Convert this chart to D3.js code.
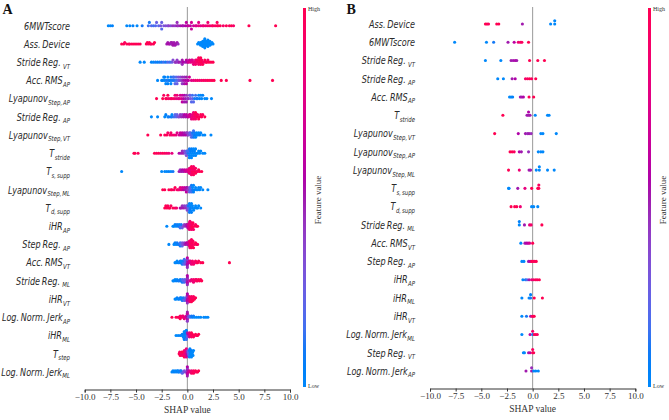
<!DOCTYPE html>
<html><head><meta charset="utf-8">
<script src="https://cdn.jsdelivr.net/npm/d3@7"></script>
<style>body{margin:0;background:#fff}</style>
</head><body><svg id="c" width="669" height="420"></svg>
<script>
// ---------- Feature labels [main, subscript, spaceBeforeSub] ----------
const featuresA = [["6MWTscore",""],["Ass. Device",""],["Stride Reg.","VT",1],["Acc. RMS","AP"],["Lyapunov","Step, AP"],["Stride Reg.","AP",1],["Lyapunov","Step, VT"],["T","stride"],["T","s, supp"],["Lyapunov","Step, ML"],["T","d, supp"],["iHR","AP"],["Step Reg.","AP",1],["Acc. RMS","VT"],["Stride Reg.","ML",1],["iHR","VT"],["Log. Norm. Jerk","AP"],["iHR","ML"],["T","step"],["Log. Norm. Jerk","ML"]];
const featuresB = [["Ass. Device",""],["6MWTscore",""],["Stride Reg.","VT",1],["Stride Reg.","AP",1],["Acc. RMS","AP"],["T","stride"],["Lyapunov","Step, VT"],["Lyapunov","Step, AP"],["Lyapunov","Step, ML"],["T","s, supp"],["T","d, supp"],["Stride Reg.","ML",1],["Acc. RMS","VT"],["Step Reg.","AP",1],["iHR","AP"],["iHR","ML"],["iHR","VT"],["Log. Norm. Jerk","ML"],["Step Reg.","VT",1],["Log. Norm. Jerk","AP"]];
const tickValues = [-10,-7.5,-5,-2.5,0,2.5,5,7.5,10];

// ---------- Panel A: [SHAP value, normalised feature value] ----------
const A_6MWT = [[-7.7,0],[-7.5,0],[-7.3,.05],[-5.9,0],[-5.6,0],[-5.3,.05],[-4.9,0],[-4.4,.1],[-3.8,.15],[-3.7,.1],[-3.5,.2],[-3.3,.15],[-3.1,.2],[-3.0,.25],[-2.8,.2],[-2.6,.3],[-2.5,.25],[-2.5,.2],[-2.3,.3],[-2.1,.35],[-1.9,.3],[-1.8,.4],[-1.6,.35],[-1.4,.45],[-1.2,.4],[-1.0,.5],[-1.0,.45],[-0.9,.45],[-0.7,.5],[-0.5,.55],[-0.4,.5],[-0.2,.55],[-0.1,.6],[0,.55],[0.1,.65],[0.3,.6],[0.4,.7],[0.4,.65],[0.6,.65],[0.8,.75],[0.9,.7],[1.1,.8],[1.1,.75],[1.3,.75],[1.5,.8],[1.6,.85],[1.8,.8],[2.0,.9],[2.0,.85],[2.2,.85],[2.4,.9],[2.5,.95],[2.7,.9],[2.9,1],[2.9,.95],[3.0,.95],[3.2,1],[3.5,.9],[3.8,1],[4.1,.95],[4.3,1],[4.5,.9],[6.0,1],[8.6,1]];
const A_AssDevice = [[-6.4,1],[-6.2,1],[-6.1,.95],[-5.9,1],[-5.7,1],[-5.6,.95],[-5.4,1],[-5.2,1],[-5.0,1],[-4.8,.95],[-4.6,1],[-4.0,1],[-3.9,1],[-3.8,.95],[-3.7,1],[-3.6,1],[-3.5,.95],[-3.3,1],[-3.2,1],[-2.0,.5],[-1.9,.5],[-1.8,.55],[-1.7,.5],[-1.6,.5],[-1.5,.45],[-1.5,.5],[-1.4,.5],[-1.3,.55],[-1.3,.5],[-1.2,.5],[-1.1,.5],[-1.0,.5],[-0.9,.45],[1.0,0],[1.1,0],[1.2,0],[1.3,0],[1.3,0],[1.4,0],[1.4,0],[1.5,0],[1.5,0],[1.5,0],[1.6,0],[1.6,0],[1.6,0],[1.6,0],[1.7,0],[1.7,0],[1.7,0],[1.7,0],[1.8,0],[1.8,0],[1.8,0],[1.8,0],[1.9,0],[1.9,0],[1.9,0],[2.0,0],[2.0,0],[2.0,0],[2.1,0],[2.1,0],[2.2,0],[2.2,0],[2.3,0],[2.4,0],[2.5,0]];
const A_StrideVT = [[-4.6,0],[-4.2,0],[-3.5,.05],[-3.3,0],[-3.1,.1],[-2.9,.05],[-2.7,.1],[-2.5,.1],[-2.3,.15],[-2.1,.1],[-1.9,.2],[-1.7,.15],[-1.5,.25],[-1.4,.35],[-1.2,.4],[-1.1,.45],[-1.0,.4],[-0.9,.4],[-0.8,.5],[-0.6,.45],[-0.5,.5],[-0.5,.45],[-0.4,.55],[-0.2,.5],[-0.1,.6],[0,.55],[0.1,.7],[0.2,.65],[0.3,.75],[0.4,.7],[0.5,.8],[0.5,.75],[0.6,.8],[0.7,.85],[0.8,.8],[0.8,.9],[0.9,.85],[0.9,.9],[1.0,.9],[1.0,.95],[1.1,.9],[1.1,.95],[1.2,.95],[1.2,1],[1.3,.9],[1.3,1],[1.4,1],[1.4,.95],[1.5,1],[1.6,.9],[1.7,1],[1.8,.95],[1.9,1],[2.0,.9],[2.1,1],[2.3,1],[2.5,1]];
const A_AccRMSAP = [[-2.9,0],[-2.5,0],[-2.4,.05],[-2.3,0],[-2.2,0],[-2.2,.05],[-2.1,0],[-2.0,.1],[-1.9,0],[-1.9,.05],[-1.8,.1],[-1.7,.05],[-1.6,.1],[-1.6,0],[-1.5,.1],[-1.4,.15],[-1.3,.1],[-1.3,.15],[-1.2,.2],[-1.1,.15],[-1.1,.2],[-1.0,.25],[-0.9,.2],[-0.9,.3],[-0.8,.3],[-0.7,.35],[-0.6,.4],[-0.5,.45],[-0.5,.4],[-0.4,.5],[-0.3,.45],[-0.3,.5],[-0.2,.55],[-0.1,.5],[-0.1,.6],[0,.55],[0.1,.6],[0.2,.65],[0.4,.75],[0.6,.8],[0.8,.85],[1.0,.9],[1.2,.85],[1.4,.9],[1.6,.95],[1.8,.9],[2.0,1],[2.2,.95],[2.4,1],[2.6,1],[3.3,1],[3.8,1],[6.1,1],[8.3,1]];
const A_LyapAP = [[-3.0,1],[-2.4,1],[-2.3,.95],[-2.1,1],[-2.0,.95],[-1.9,1],[-1.8,.9],[-1.6,1],[-1.5,.9],[-1.3,.95],[-1.2,.85],[-1.1,.8],[-1.0,.85],[-0.9,.75],[-0.8,.8],[-0.7,.7],[-0.6,.75],[-0.5,.65],[-0.5,.6],[-0.4,.6],[-0.3,.55],[-0.3,.5],[-0.2,.5],[-0.1,.45],[-0.1,.5],[0,.4],[0.1,.45],[0.2,.35],[0.3,.3],[0.3,.25],[0.4,.2],[0.5,.25],[0.5,.15],[0.6,.2],[0.7,.1],[0.8,.15],[0.9,.05],[1.0,.1],[1.1,0],[1.2,.05],[1.3,0],[1.4,0],[1.5,.05],[1.7,0],[1.9,0],[2.35,0]];
const A_StrideAP = [[-3.5,0],[-2.9,0],[-2.2,0],[-2.1,.05],[-1.9,0],[-1.8,.1],[-1.6,.05],[-1.5,.1],[-1.5,0],[-1.3,.15],[-1.2,.2],[-1.1,.2],[-1.0,.25],[-0.9,.3],[-0.8,.35],[-0.7,.4],[-0.6,.45],[-0.5,.4],[-0.4,.5],[-0.3,.55],[-0.2,.5],[-0.1,.6],[0,.55],[0.1,.65],[0.2,.7],[0.3,.75],[0.3,.7],[0.4,.8],[0.5,.85],[0.5,.8],[0.6,.9],[0.6,.85],[0.7,.85],[0.7,.95],[0.8,.9],[0.8,1],[0.9,.95],[0.9,1],[1.0,1],[1.0,.9],[1.1,1],[1.2,.95],[1.3,1],[1.4,1],[1.5,.95],[1.7,1]];
const A_LyapVT = [[-3.85,1],[-2.6,1],[-2.2,.95],[-2.0,1],[-1.9,.9],[-1.7,.95],[-1.6,.9],[-1.5,.85],[-1.3,.9],[-1.1,.8],[-1.0,.75],[-0.8,.7],[-0.7,.65],[-0.6,.6],[-0.5,.6],[-0.4,.55],[-0.3,.5],[-0.2,.55],[-0.1,.45],[0,.5],[0,.4],[0.1,.35],[0.2,.3],[0.3,.25],[0.3,.2],[0.4,.2],[0.5,.15],[0.5,.1],[0.6,.1],[0.6,.15],[0.7,.05],[0.7,.1],[0.8,0],[0.9,.05],[0.9,0],[1.0,0],[1.1,0],[1.2,.05],[1.3,0],[1.5,0],[1.7,0],[2.3,0]];
const A_Tstride = [[-5.2,1],[-5.1,1],[-4.8,.95],[-3.2,1],[-3.0,.95],[-2.8,1],[-2.6,.9],[-2.4,1],[-2.2,.95],[-2.0,.9],[-1.8,.85],[-1.5,.8],[-0.8,.55],[-0.6,.5],[-0.5,.45],[-0.4,.5],[-0.3,.35],[-0.2,.3],[-0.1,.25],[-0.1,.3],[0,.2],[0,.15],[0.1,.1],[0.1,.15],[0.2,.05],[0.2,.1],[0.2,0],[0.3,0],[0.3,.05],[0.4,0],[0.4,.05],[0.4,0],[0.5,0],[0.5,.05],[0.6,0],[0.6,0],[0.7,0],[0.7,.05],[0.8,0],[0.8,0],[0.9,0],[1.0,0],[1.1,0],[1.2,0],[1.3,0],[1.5,0],[1.7,0]];
const A_Tssupp = [[-6.4,0],[-2.5,0],[-2.2,0],[-2.0,0],[-1.8,.05],[-1.6,0],[-1.4,.1],[-0.8,.5],[-0.7,.45],[-0.6,.5],[-0.5,.55],[-0.4,.5],[-0.3,.6],[-0.2,.65],[-0.1,.7],[0,.65],[0.1,.75],[0.1,.8],[0.2,.85],[0.2,.8],[0.3,.9],[0.3,.85],[0.3,.8],[0.4,.95],[0.4,.9],[0.4,1],[0.5,1],[0.5,.9],[0.5,.95],[0.6,1],[0.6,.95],[0.6,.9],[0.7,1],[0.7,.9],[0.8,1],[0.8,.95],[0.9,1],[1.0,.9],[1.1,1],[1.2,1],[1.4,1]];
const A_LyapML = [[-2.4,1],[-2.2,1],[-1.8,1],[-1.6,.95],[-1.5,1],[-1.3,.9],[-1.2,1],[-1.0,.95],[-0.9,.9],[-0.8,.85],[-0.7,.8],[-0.6,.75],[-0.5,.7],[-0.4,.6],[-0.3,.65],[-0.2,.5],[-0.1,.55],[-0.1,.6],[0,.45],[0,.5],[0.1,.4],[0.2,.3],[0.2,.25],[0.3,.2],[0.3,.2],[0.4,.15],[0.4,.1],[0.5,.1],[0.5,0],[0.6,.05],[0.6,0],[0.7,.05],[0.8,0],[0.9,0],[1.0,0],[1.1,0],[1.2,0],[1.3,0],[1.5,0],[2.0,0]];
const A_Tdsupp = [[-2.2,1],[-2.1,1],[-2.0,1],[-1.9,.95],[-1.8,1],[-1.7,1],[-1.6,.95],[-1.4,1],[-1.2,.9],[-1.05,.9],[-0.7,.55],[-0.6,.5],[-0.5,.45],[-0.4,.5],[-0.3,.4],[-0.2,.45],[-0.1,.35],[0,.4],[0,.3],[0,.35],[0.1,.2],[0.1,.1],[0.2,.15],[0.2,.05],[0.2,.1],[0.3,.1],[0.3,0],[0.3,.05],[0.4,0],[0.4,.05],[0.5,0],[0.5,0],[0.6,0],[0.7,0],[0.8,0],[0.9,0],[1.0,0],[1.1,0],[1.3,0]];
const A_iHRAP = [[-2.0,0],[-1.4,0],[-1.3,0],[-1.2,.05],[-1.1,0],[-1.0,.1],[-0.9,.05],[-0.8,.1],[-0.8,0],[-0.7,.15],[-0.6,.2],[-0.6,.1],[-0.5,.25],[-0.4,.35],[-0.3,.4],[-0.2,.45],[-0.1,.5],[0,.55],[0,.5],[0.05,.6],[0.1,.7],[0.1,.75],[0.15,.75],[0.2,.8],[0.2,.85],[0.25,.85],[0.3,.9],[0.3,.85],[0.35,.9],[0.4,.95],[0.4,.9],[0.45,1],[0.5,.95],[0.5,1],[0.55,1],[0.6,.9],[0.7,1],[0.8,.95],[0.9,1],[1.0,1]];
const A_StepAP = [[-1.8,0],[-1.3,0],[-1.2,.05],[-1.1,0],[-1.0,.1],[-0.9,.05],[-0.8,.1],[-0.7,.15],[-0.7,.1],[-0.6,.2],[-0.5,.3],[-0.5,.2],[-0.4,.35],[-0.3,.4],[-0.2,.5],[-0.1,.55],[0,.5],[0,.6],[0.1,.65],[0.15,.7],[0.2,.8],[0.2,.85],[0.25,.85],[0.3,.9],[0.3,.95],[0.3,1],[0.35,.9],[0.4,1],[0.4,.95],[0.45,.9],[0.5,1],[0.5,.95],[0.55,.95],[0.6,1],[0.7,.95],[0.8,1],[0.9,1],[1.0,.95]];
const A_AccRMSVT = [[-1.2,0],[-1.1,0],[-1.0,0],[-0.9,.05],[-0.8,0],[-0.7,.1],[-0.6,.05],[-0.6,0],[-0.5,.1],[-0.4,.15],[-0.4,.1],[-0.3,.2],[-0.3,.15],[-0.2,.25],[-0.2,.2],[-0.1,.3],[0,.45],[0,.5],[0,.55],[0,.4],[0,.5],[0,.6],[0,.45],[0.1,.6],[0.2,.7],[0.3,.75],[0.3,.8],[0.4,.8],[0.5,.85],[0.5,.9],[0.6,.9],[0.7,.85],[0.8,.95],[0.9,.9],[1.0,1],[1.1,.95],[1.3,1],[1.5,1],[4.1,1]];
const A_StrideML = [[-1.4,0],[-1.3,0],[-1.2,0],[-1.1,.05],[-1.0,0],[-0.9,.05],[-0.8,.1],[-0.7,.05],[-0.6,.1],[-0.5,.15],[-0.5,.1],[-0.4,.2],[-0.3,.2],[-0.3,.15],[-0.2,.25],[-0.1,.3],[0,.45],[0,.5],[0,.55],[0,.4],[0,.6],[0,.5],[0,.45],[0,.55],[0.25,.7],[0.3,.75],[0.4,.8],[0.5,.85],[0.6,.9],[0.6,.85],[0.7,.85],[0.8,.95],[0.9,1],[0.9,.9],[1.0,.95],[1.1,1],[1.2,1],[1.3,.95],[1.4,1]];
const A_iHRVT = [[-1.2,0],[-1.1,0],[-1.0,.05],[-0.9,0],[-0.8,.05],[-0.7,.1],[-0.6,.05],[-0.6,0],[-0.5,.1],[-0.4,.15],[-0.4,.1],[-0.3,.2],[-0.2,.25],[-0.2,.2],[-0.1,.3],[0,.45],[0,.5],[0,.55],[0,.4],[0,.6],[0,.5],[0,.45],[0,.55],[0.1,.65],[0.15,.7],[0.2,.75],[0.2,.8],[0.25,.8],[0.3,.85],[0.3,.9],[0.35,.9],[0.4,.95],[0.4,1],[0.45,1],[0.5,.9],[0.55,1],[0.6,.95],[0.7,1],[0.8,1]];
const A_JerkAP = [[-1.5,1],[-1.1,1],[-0.9,.95],[-0.8,1],[-0.7,.9],[-0.7,1],[-0.6,.95],[-0.5,.85],[-0.4,.9],[-0.4,.85],[-0.3,.8],[-0.2,.75],[-0.1,.7],[0,.5],[0,.55],[0,.6],[0,.45],[0,.5],[0,.65],[0,.4],[0,.5],[0.1,.35],[0.2,.25],[0.3,.15],[0.4,.1],[0.5,.05],[0.6,.1],[0.7,0],[0.9,0],[1.1,0],[1.3,0],[1.6,0],[1.8,0],[2.0,0]];
const A_iHRML = [[-1.1,0],[-0.9,0],[-0.7,.05],[-0.5,0],[-0.5,.05],[-0.4,0],[-0.4,.05],[-0.4,0],[-0.3,0],[-0.3,.1],[-0.3,0],[-0.3,.05],[-0.2,0],[-0.2,.1],[-0.2,0],[-0.2,.05],[-0.1,.1],[-0.1,0],[-0.1,.15],[-0.1,.05],[0,.2],[0,.1],[0,.3],[0,.5],[0.1,.4],[0.1,.6],[0.2,.7],[0.2,.8],[0.3,.85],[0.3,.9],[0.4,.95],[0.4,1],[0.5,.9],[0.5,1],[0.6,.95],[0.7,1],[0.8,1],[0.9,.95],[1.0,1],[1.1,1]];
const A_Tstep = [[-0.8,1],[-0.75,.95],[-0.7,1],[-0.6,.9],[-0.55,1],[-0.5,.95],[-0.45,.9],[-0.4,1],[-0.35,.85],[-0.3,.9],[-0.3,1],[-0.25,.8],[-0.2,.85],[-0.2,.9],[-0.15,.75],[-0.1,.7],[-0.1,.8],[-0.05,.6],[0,.5],[0,.55],[0.05,.35],[0.1,.3],[0.1,.2],[0.15,.15],[0.2,.1],[0.2,0],[0.25,.05],[0.3,0],[0.3,0],[0.35,0],[0.4,.05],[0.4,0],[0.45,0],[0.5,0],[0.55,0],[0.6,0]];
const A_JerkML = [[-1.5,0],[-1.4,0],[-1.3,.05],[-1.2,0],[-1.1,0],[-1.0,.05],[-0.9,.1],[-0.9,0],[-0.8,0],[-0.7,.1],[-0.6,.15],[-0.6,.1],[-0.5,.2],[-0.4,.25],[-0.3,.3],[-0.2,.35],[0,.5],[0,.45],[0,.55],[0,.5],[0,.6],[0,.4],[0,.5],[0,.55],[0.1,.65],[0.2,.7],[0.3,.8],[0.4,.85],[0.4,.9],[0.5,.9],[0.6,.95],[0.6,1],[0.7,.9],[0.8,1],[0.9,.95],[1.0,1],[1.1,1]];

// ---------- Panel B ----------
const B_AssDevice = [[-4.6,1],[-4.45,1],[-4.3,.95],[-3.5,1],[-3.3,1],[-1.0,.5],[1.75,0],[2.15,0],[2.15,0]];
const B_6MWT = [[-7.6,0],[-4.5,0],[-3.8,.1],[-2.4,.5],[-1.8,.6],[-1.4,.85],[-1.2,.9],[-1.05,.95],[-0.4,1]];
const B_StrideVT = [[-4.6,0],[-3.1,0],[-2.1,.5],[-1.9,.5],[-1.7,.55],[-1.55,.5],[-0.3,1],[0.5,1],[1.15,1]];
const B_StrideAP = [[-3.4,0],[-2.85,0],[-2.0,.5],[-1.7,.55],[-0.7,.9],[-0.5,.95],[-0.3,1],[-0.1,.95],[0.3,1]];
const B_AccRMSAP = [[-2.25,0],[-2.1,0],[-1.95,.05],[-1.2,.5],[-1.05,.5],[-0.9,.55],[-0.35,1],[0.1,1]];
const B_Tstride = [[-2.9,1],[-0.55,.5],[-0.4,.5],[-0.4,.55],[-0.25,.5],[0.25,0],[1.45,0],[1.6,0]];
const B_LyapVT = [[-3.7,1],[-1.4,.55],[-0.7,.5],[-0.5,.45],[-0.35,.5],[-0.15,.45],[0.8,0],[1.0,0],[2.3,0]];
const B_LyapAP = [[-2.2,1],[-2.0,1],[-1.8,.95],[-1.3,.55],[-1.1,.5],[-0.4,.45],[0.55,0],[0.8,0],[1.0,0]];
const B_LyapML = [[-2.35,1],[-1.3,.85],[-0.35,.5],[-0.2,.5],[0.35,0],[0.65,0],[0.65,0],[1.45,0],[2.1,0]];
const B_Tssupp = [[-2.35,0],[-2.3,0],[-1.45,.5],[-0.75,.8],[-0.1,1],[0.5,1],[0.6,1],[0.6,.95]];
const B_Tdsupp = [[-2.1,1],[-1.75,1],[-1.55,1],[-1.2,.85],[-0.1,0],[0.1,0],[0.5,0]];
const B_StrideML = [[-1.3,0],[-1.3,.05],[-0.8,.5],[-0.3,.8],[-0.15,.9],[0.9,1]];
const B_AccRMSVT = [[-1.15,0],[-0.75,.5],[-0.6,.55],[-0.45,.6],[-0.3,.7],[0,1]];
const B_StepAP = [[-1.05,0],[-0.85,0],[-0.4,.5],[-0.25,.6],[-0.1,1],[0.05,1],[0.2,.95],[0.35,1]];
const B_iHRAP = [[-0.95,0],[-0.7,.1],[-0.55,.2],[-0.35,.5],[-0.1,.8],[0.1,.9],[0.3,1],[0.45,.95],[0.65,1]];
const B_iHRML = [[-1.05,0],[-0.35,0],[-0.2,.1],[-0.2,.05],[0.15,1],[0.95,1]];
const B_iHRVT = [[-1.05,0],[-0.6,.1],[-0.2,.5],[-0.05,.9],[0.05,1],[0.15,1]];
const B_JerkML = [[-1.05,0],[-0.25,.6],[0,0],[0,.9],[0.15,1],[0.3,1],[0.45,.95]];
const B_StepVT = [[-0.9,0],[-0.8,0],[-0.4,.5],[-0.25,.6],[0,1],[0,.95],[0.1,1]];
const B_JerkAP = [[-0.65,.5],[-0.1,.5],[-0.1,.45],[0.1,0],[0.3,0],[0.55,0]];

const rowsA = [A_6MWT,A_AssDevice,A_StrideVT,A_AccRMSAP,A_LyapAP,A_StrideAP,A_LyapVT,A_Tstride,A_Tssupp,A_LyapML,A_Tdsupp,A_iHRAP,A_StepAP,A_AccRMSVT,A_StrideML,A_iHRVT,A_JerkAP,A_iHRML,A_Tstep,A_JerkML];
const rowsB = [B_AssDevice,B_6MWT,B_StrideVT,B_StrideAP,B_AccRMSAP,B_Tstride,B_LyapVT,B_LyapAP,B_LyapML,B_Tssupp,B_Tdsupp,B_StrideML,B_AccRMSVT,B_StepAP,B_iHRAP,B_iHRML,B_iHRVT,B_JerkML,B_StepVT,B_JerkAP];

// SHAP red-blue colormap (LCh interpolation)
function shapColor(t){
  t = Math.max(0, Math.min(1, t));
  const h = 266.93 + t*(380.32-266.93);
  const c = 70 + 20*t;
  const l = t < .5 ? 54 - 28*t : 40 + 28*(t-.5);
  return d3.hcl(h, c, l).formatRgb();
}

const svg = d3.select("#c");
const defs = svg.append("defs");
const grad = defs.append("linearGradient").attr("id","cbar").attr("x1",0).attr("y1",1).attr("x2",0).attr("y2",0);
d3.range(0,1.0001,0.05).forEach(t=>grad.append("stop").attr("offset",t).attr("stop-color",shapColor(t)));

function panel(cfg){
  const g = svg.append("g");
  const x = d3.scaleLinear().domain([-10,10]).range([cfg.x0,cfg.x1]);
  const y = d3.scalePoint().domain(d3.range(cfg.features.length)).range([cfg.yTop,cfg.yBot]);
  const rowH = y.step();

  g.append("line").attr("x1",x(0)).attr("x2",x(0)).attr("y1",7).attr("y2",cfg.axisY)
    .attr("stroke","#999").attr("stroke-width",1);

  cfg.rows.forEach((row,i)=>{
    const q = row.map(d=>Math.round(d[0]/cfg.bin));
    const order = d3.range(row.length).sort((a,b)=>q[a]-q[b] || a-b);
    const ys = new Array(row.length).fill(0);
    let layer=0, last=null;
    order.forEach(k=>{
      if(q[k]!==last) layer=0;
      ys[k] = Math.ceil(layer/2)*((layer%2)*2-1);
      layer++; last=q[k];
    });
    const s = 0.9*0.4*rowH/(d3.max(ys)+1);
    g.append("g").selectAll("circle").data(row).join("circle")
      .attr("cx",d=>x(d[0]))
      .attr("cy",(d,k)=>y(i)-ys[k]*s)
      .attr("r",1.55)
      .attr("fill",d=>shapColor(d[1]));
  });

  // feature labels
  cfg.features.forEach((f,i)=>{
    const t = g.append("text")
      .attr("transform",`translate(${cfg.labelX},${y(i)+3.8}) scale(0.77,1)`)
      .attr("text-anchor","end")
      .attr("font-family","'DejaVu Sans', sans-serif").attr("font-style","italic")
      .attr("font-size",10.5).attr("word-spacing",-1).attr("fill","#2a2a2a");
    t.append("tspan").text(f[0]);
    if(f[1]) t.append("tspan").attr("dy",2.6).attr("dx",f[2]?3:0.5).attr("font-size",7).text(f[1]);
  });

  // x axis
  const ax = g.append("g").attr("transform",`translate(0,${cfg.axisY})`)
    .call(d3.axisBottom(x).tickValues(tickValues).tickFormat(d3.format(".1f")).tickSizeOuter(0).tickSize(3).tickPadding(1.5));
  ax.select(".domain").attr("stroke","#333");
  ax.selectAll(".tick line").attr("stroke","#333");
  ax.selectAll(".tick text").attr("font-family","'Liberation Serif','Times New Roman',serif").attr("font-size",9).attr("fill","#333");
  g.append("text").attr("x",x(0)).attr("y",cfg.axisY+23).attr("text-anchor","middle")
    .attr("font-family","'Liberation Serif','Times New Roman',serif").attr("font-size",9.5).attr("fill","#333").text("SHAP value");

  // colour bar
  g.append("rect").attr("x",cfg.cbX).attr("y",8).attr("width",3).attr("height",379).attr("fill","url(#cbar)");
  g.append("text").attr("x",cfg.cbX+5).attr("y",11).attr("font-family","'Liberation Serif',serif").attr("font-size",6).attr("fill","#333").text("High");
  g.append("text").attr("x",cfg.cbX+5).attr("y",388).attr("font-family","'Liberation Serif',serif").attr("font-size",6).attr("fill","#333").text("Low");
  g.append("text").attr("transform",`translate(${cfg.cbX+18},200) rotate(-90)`).attr("text-anchor","middle")
    .attr("font-family","'Liberation Serif',serif").attr("font-size",9).attr("fill","#333").text("Feature value");

  // panel letter
  g.append("text").attr("x",cfg.letterX).attr("y",14).attr("font-family","'Liberation Serif','Times New Roman',serif")
    .attr("font-weight","bold").attr("font-size",14).attr("fill","#111").text(cfg.letter);
}

panel({features:featuresA, rows:rowsA, x0:84.7, x1:290, yTop:25.7, yBot:372, axisY:389.5, labelX:70, cbX:303, letter:"A", letterX:2.5, bin:0.18});
panel({features:featuresB, rows:rowsB, x0:430, x1:635.3, yTop:24, yBot:371, axisY:388.5, labelX:415, cbX:648, letter:"B", letterX:346.5, bin:0.06});
</script></body></html>
